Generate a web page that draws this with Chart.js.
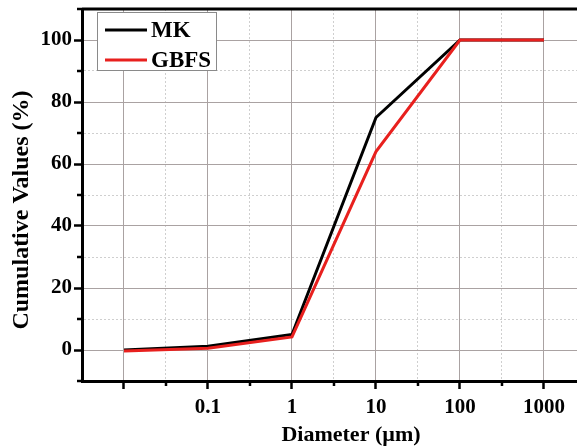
<!DOCTYPE html>
<html>
<head>
<meta charset="utf-8">
<script src="https://cdn.jsdelivr.net/npm/chart.js@4.4.0/dist/chart.umd.min.js"></script>
<style>
  html, body { margin: 0; padding: 0; background: #fff; overflow: hidden; }
  #wrap { width: 620px; height: 447px; }
</style>
</head>
<body>
<div id="wrap"><canvas id="psd"></canvas></div>
<script>
// particle size distribution
var diameters = [0.01, 0.1, 1, 10, 100, 1000];
var mkValues = [0, 1.2, 5, 75, 100, 100];
var gbfsValues = [-0.3, 0.6, 4.2, 64, 100, 100];

var xTicks = [0.01, 0.1, 1, 10, 100, 1000];
var xTickLabels = ['', '0.1', '1', '10', '100', '1000'];
var yTickLabels = [0, 20, 40, 60, 80, 100];

var serif = '"Liberation Serif", "Times New Roman", serif';

// half-decade minor ticks between the labelled ones
var xMinor = [];
for (var i = 0; i < xTicks.length; i++) {
  var next = i < xTicks.length - 1 ? xTicks[i + 1] : xTicks[i] * 10;
  xMinor.push(Math.sqrt(xTicks[i] * next));
}

function isMajorX(v) { return xTicks.indexOf(v) >= 0; }
function isMajorY(v) { return yTickLabels.indexOf(v) >= 0; }

var framePlugin = {
  id: 'frame',
  afterDraw: function(chart) {
    var ctx = chart.ctx, a = chart.chartArea;
    var xs = chart.scales.x, ys = chart.scales.y;
    ctx.save();
    ctx.strokeStyle = '#000';
    ctx.lineWidth = 2.5;
    ctx.beginPath();
    xs.ticks.forEach(function(t) {
      if (isMajorX(t.value)) return;
      var px = xs.getPixelForValue(t.value);
      ctx.moveTo(px, a.bottom);
      ctx.lineTo(px, a.bottom + 5);
    });
    ys.ticks.forEach(function(t) {
      if (isMajorY(t.value)) return;
      var py = ys.getPixelForValue(t.value);
      ctx.moveTo(a.left, py);
      ctx.lineTo(a.left - 5, py);
    });
    ctx.stroke();

    // top frame line
    ctx.lineWidth = 3;
    ctx.beginPath();
    ctx.moveTo(a.left, a.top);
    ctx.lineTo(a.right, a.top);
    ctx.stroke();

    // legend box
    var bx = a.left + 15, by = a.top + 3;
    ctx.fillStyle = '#fff';
    ctx.fillRect(bx, by, 119, 58);
    ctx.strokeStyle = '#8a8a8a';
    ctx.lineWidth = 1;
    ctx.strokeRect(bx + 0.5, by + 0.5, 119, 58);
    ctx.font = 'bold 23px ' + serif;
    ctx.textBaseline = 'middle';
    ctx.textAlign = 'left';
    chart.data.datasets.forEach(function(ds, k) {
      var ly = by + 18 + k * 30;
      ctx.strokeStyle = ds.borderColor;
      ctx.lineWidth = 3;
      ctx.beginPath();
      ctx.moveTo(bx + 8, ly);
      ctx.lineTo(bx + 50, ly);
      ctx.stroke();
      ctx.fillStyle = '#000';
      ctx.fillText(ds.label, bx + 54, ly + 1);
    });
    ctx.restore();
  }
};

var ctx = document.getElementById('psd');
var chart = new Chart(ctx, {
  type: 'line',
  data: {
    datasets: [
      {
        label: 'MK',
        data: diameters.map(function(d, i) { return {x: d, y: mkValues[i]}; }),
        borderColor: '#000000',
        borderWidth: 3,
        pointRadius: 0,
        tension: 0,
        fill: false,
        order: 2
      },
      {
        label: 'GBFS',
        data: diameters.map(function(d, i) { return {x: d, y: gbfsValues[i]}; }),
        borderColor: '#e8201e',
        borderWidth: 3,
        pointRadius: 0,
        tension: 0,
        fill: false,
        order: 1
      }
    ]
  },
  options: {
    responsive: true,
    maintainAspectRatio: false,
    animation: false,
    layout: { padding: { top: 9, right: 0, bottom: 0, left: 0 } },
    plugins: {
      legend: { display: false },
      tooltip: { enabled: false }
    },
    scales: {
      x: {
        type: 'logarithmic',
        min: Math.pow(10, -2.5),
        max: Math.pow(10, 3.905),
        afterBuildTicks: function(scale) {
          var all = xTicks.concat(xMinor).sort(function(a, b) { return a - b; });
          scale.ticks = all.map(function(v) { return {value: v}; });
        },
        afterFit: function(scale) {
          scale.height = 66;
          scale.paddingLeft = 0;
          scale.paddingRight = 0;
        },
        ticks: {
          autoSkip: false,
          maxRotation: 0,
          padding: 6,
          color: '#000',
          font: { family: serif, size: 21, weight: 'bold' },
          callback: function(value) {
            var k = xTicks.indexOf(value);
            return k >= 0 ? xTickLabels[k] : '';
          }
        },
        grid: {
          color: function(c) { return c.tick && isMajorX(c.tick.value) ? '#aaa2a2' : '#cfcfcf'; },
          lineWidth: 1,
          tickLength: 8,
          tickWidth: 2.5,
          tickColor: function(c) { return c.tick && isMajorX(c.tick.value) ? '#000' : 'rgba(0,0,0,0)'; }
        },
        border: {
          display: true,
          color: '#000',
          width: 3,
          dash: function(c) { return c.tick && !isMajorX(c.tick.value) ? [2, 2] : []; }
        },
        title: {
          display: true,
          text: 'Diameter (µm)',
          color: '#000',
          font: { family: serif, size: 22, weight: 'bold', lineHeight: 1 },
          padding: { top: 0, bottom: 0.5 }
        }
      },
      y: {
        min: -10,
        max: 110,
        afterFit: function(scale) {
          scale.width = 82;
          scale.paddingTop = 0;
          scale.paddingBottom = 0;
        },
        ticks: {
          stepSize: 10,
          autoSkip: false,
          padding: 2,
          color: '#000',
          font: { family: serif, size: 21, weight: 'bold' },
          callback: function(value) {
            return isMajorY(value) ? String(value) : '';
          }
        },
        grid: {
          color: function(c) { return c.tick && isMajorY(c.tick.value) ? '#aaa2a2' : '#cfcfcf'; },
          lineWidth: 1,
          tickLength: 8,
          tickWidth: 2.5,
          tickColor: function(c) { return c.tick && isMajorY(c.tick.value) ? '#000' : 'rgba(0,0,0,0)'; }
        },
        border: {
          display: true,
          color: '#000',
          width: 3,
          dash: function(c) { return c.tick && !isMajorY(c.tick.value) ? [2, 2] : []; }
        },
        title: {
          display: true,
          text: 'Cumulative Values (%)     ',
          color: '#000',
          font: { family: serif, size: 24, weight: 'bold', lineHeight: 1 },
          padding: { top: 10, bottom: 0 }
        }
      }
    }
  },
  plugins: [framePlugin]
});
</script>
</body>
</html>
